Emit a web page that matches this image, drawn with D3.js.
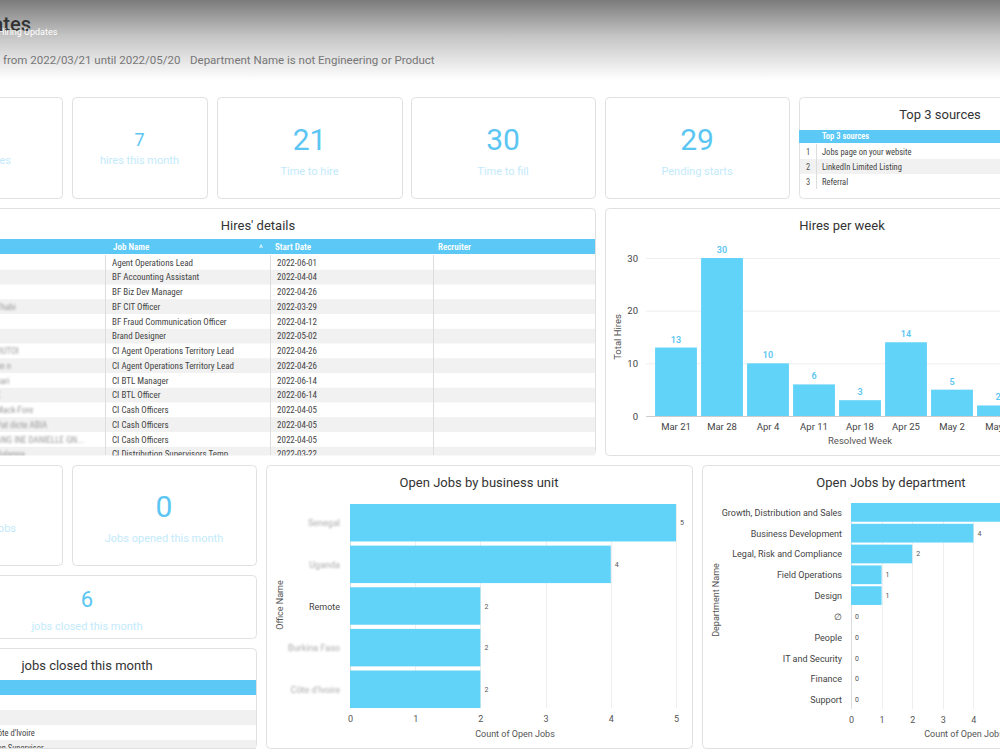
<!DOCTYPE html>
<html>
<head>
<meta charset="utf-8">
<script src="https://cdn.jsdelivr.net/npm/d3@7"></script>
<style>
  body { margin: 0; background: #fff; overflow: hidden; }
  svg { display: block; font-family: Roboto, "Open Sans", sans-serif; }
  .cond { font-family: "Roboto Condensed", "Liberation Sans Narrow", Roboto, sans-serif; }
</style>
</head>
<body>
<script>
// ---- data ----
const kpiValues = ["7", "21", "30", "29", "0", "6"]
const kpiLabels = ["hires this month", "Time to hire", "Time to fill", "Pending starts", "Jobs opened this month", "jobs closed this month"]

const sources = ["Jobs page on your website", "LinkedIn Limited Listing", "Referral"]

const hireJobs = ["Agent Operations Lead", "BF Accounting Assistant", "BF Biz Dev Manager", "BF CIT Officer",
  "BF Fraud Communication Officer", "Brand Designer", "CI Agent Operations Territory Lead",
  "CI Agent Operations Territory Lead", "CI BTL Manager", "CI BTL Officer", "CI Cash Officers",
  "CI Cash Officers", "CI Cash Officers", "CI Distribution Supervisors Temp"]
const hireDates = ["2022-06-01", "2022-04-04", "2022-04-26", "2022-03-29", "2022-04-12", "2022-05-02",
  "2022-04-26", "2022-04-26", "2022-06-14", "2022-06-14", "2022-04-05", "2022-04-05", "2022-04-05", "2022-03-22"]
const hireNames = ["", "", "", "Thabi", "", "", "OUTOI", "un n", "bari", "E", "Mack-Fore", "Pat dicte ABIA", "ANG INE DANIELLE GN...", "Bulanga"]

const weeks = ["Mar 21", "Mar 28", "Apr 4", "Apr 11", "Apr 18", "Apr 25", "May 2", "May 9"]
const weekHires = [13, 30, 10, 6, 3, 14, 5, 2]

const units = ["Senegal", "Uganda", "Remote", "Burkina Faso", "Côte d'Ivoire"]
const unitJobs = [5, 4, 2, 2, 2]

const departments = ["Growth, Distribution and Sales", "Business Development", "Legal, Risk and Compliance",
  "Field Operations", "Design", "∅", "People", "IT and Security", "Finance", "Support"]
const deptJobs = [5, 4, 2, 1, 1, 0, 0, 0, 0, 0]

const closedRows = ["", "", "Côte d'Ivoire", "Distribution Supervisor"]

const blue = "#62d3f8"
const headBlue = "#5bc8f5"
const numBlue = "#5cc6f2"
const lblBlue = "#c3eafb"

const svg = d3.select("body").append("svg")
  .attr("width", 1000)
  .attr("height", 750)

const defs = svg.append("defs")
const grad = defs.append("linearGradient").attr("id", "hdr").attr("x1", 0).attr("x2", 0).attr("y1", 0).attr("y2", 1)
grad.append("stop").attr("offset", "0%").attr("stop-color", "#7b7b7b")
grad.append("stop").attr("offset", "45%").attr("stop-color", "#c4c4c4")
grad.append("stop").attr("offset", "100%").attr("stop-color", "#ffffff")
defs.append("filter").attr("id", "blur").append("feGaussianBlur").attr("stdDeviation", 0.9)

// header
svg.append("rect").attr("x", 0).attr("y", 0).attr("width", 1000).attr("height", 80).attr("fill", "url(#hdr)")
svg.append("text").attr("x", 31).attr("y", 31).attr("text-anchor", "end")
  .attr("font-size", "20px").attr("font-weight", 500).attr("fill", "#333").text("Hiring Updates")
svg.append("text").attr("x", -2).attr("y", 35).attr("font-size", "9px").attr("fill", "#fff").text("Hiring Updates")
svg.append("text").attr("x", 3).attr("y", 64).attr("font-size", "11.5px").attr("fill", "#777")
  .text("from 2022/03/21 until 2022/05/20")
svg.append("text").attr("x", 190).attr("y", 64).attr("font-size", "11.5px").attr("fill", "#777")
  .text("Department Name is not Engineering or Product")

function panel(x, y, w, h) {
  return svg.append("rect").attr("x", x + 0.5).attr("y", y + 0.5).attr("width", w).attr("height", h)
    .attr("rx", 4).attr("fill", "#fff").attr("stroke", "#e0e0e0")
}

function kpi(x, y, w, h, value, label, size, vy, ly) {
  panel(x, y, w, h)
  svg.append("text").attr("x", x + w / 2).attr("y", vy).attr("text-anchor", "middle")
    .attr("font-size", size + "px").attr("fill", numBlue).text(value)
  svg.append("text").attr("x", x + w / 2).attr("y", ly).attr("text-anchor", "middle")
    .attr("font-size", "11px").attr("fill", lblBlue).text(label)
}

// KPI row
panel(-20, 97, 82, 101)
svg.append("text").attr("x", 11).attr("y", 164).attr("text-anchor", "end")
  .attr("font-size", "11px").attr("fill", lblBlue).text("Total hires")
kpi(72, 97, 135, 101, kpiValues[0], kpiLabels[0], 18, 146, 164)
kpi(217, 97, 185, 101, kpiValues[1], kpiLabels[1], 30, 150, 175)
kpi(411, 97, 184, 101, kpiValues[2], kpiLabels[2], 30, 150, 175)
kpi(605, 97, 184, 101, kpiValues[3], kpiLabels[3], 30, 150, 175)

// Top 3 sources
panel(799, 97, 240, 101)
svg.append("text").attr("x", 940).attr("y", 119).attr("text-anchor", "middle")
  .attr("font-size", "13px").attr("fill", "#333").text("Top 3 sources")
svg.append("rect").attr("x", 799).attr("y", 130).attr("width", 240).attr("height", 13).attr("fill", headBlue)
svg.append("text").attr("class", "cond").attr("x", 822).attr("y", 139).attr("font-size", "8.5px")
  .attr("font-weight", 600).attr("fill", "#fff").text("Top 3 sources")
const srcY = d3.scaleBand().domain(d3.range(sources.length)).range([144, 189])
sources.forEach((s, i) => {
  if (i % 2 == 1) svg.append("rect").attr("x", 800).attr("y", srcY(i)).attr("width", 240)
    .attr("height", srcY.bandwidth()).attr("fill", "#f1f1f1")
  svg.append("text").attr("class", "cond").attr("x", 806).attr("y", srcY(i) + 11).attr("font-size", "8.5px")
    .attr("fill", "#555").text(i + 1)
  svg.append("text").attr("class", "cond").attr("x", 822).attr("y", srcY(i) + 11).attr("font-size", "8.5px")
    .attr("fill", "#444").text(s)
})
svg.append("line").attr("x1", 816.5).attr("x2", 816.5).attr("y1", 144).attr("y2", 189).attr("stroke", "#ddd")

// Hires' details table
panel(-150, 208, 745, 247)
svg.append("text").attr("x", 258).attr("y", 230).attr("text-anchor", "middle")
  .attr("font-size", "13px").attr("fill", "#333").text("Hires' details")
svg.append("rect").attr("x", 0).attr("y", 239).attr("width", 595).attr("height", 15).attr("fill", headBlue)
const hdrCols = [[113, "Job Name"], [275, "Start Date"], [438, "Recruiter"]]
hdrCols.forEach(c => svg.append("text").attr("class", "cond").attr("x", c[0]).attr("y", 250)
  .attr("font-size", "9px").attr("font-weight", 600).attr("fill", "#fff").text(c[1]))
svg.append("text").attr("x", 261).attr("y", 251).attr("text-anchor", "middle").attr("font-size", "9px")
  .attr("fill", "#fff").text("^")
const rowY = d3.scaleBand().domain(d3.range(hireJobs.length)).range([255, 255 + 14.75 * hireJobs.length])
const tbl = svg.append("g")
hireJobs.forEach((j, i) => {
  const y = rowY(i)
  if (i % 2 == 1) tbl.append("rect").attr("x", 0).attr("y", y).attr("width", 595).attr("height", rowY.bandwidth()).attr("fill", "#f1f1f1")
  tbl.append("text").attr("class", "cond").attr("x", 112).attr("y", y + 10.5).attr("font-size", "9px").attr("fill", "#444").text(j)
  tbl.append("text").attr("class", "cond").attr("x", 277).attr("y", y + 10.5).attr("font-size", "9px").attr("fill", "#444").text(hireDates[i])
  tbl.append("text").attr("class", "cond").attr("x", -4).attr("y", y + 10.5).attr("font-size", "9px")
    .attr("fill", "#999").attr("filter", "url(#blur)").text(hireNames[i])
})
;[105.5, 270.5, 433.5].forEach(x => tbl.append("line").attr("x1", x).attr("x2", x).attr("y1", 255).attr("y2", 455).attr("stroke", "#ddd"))
// clip rows at panel bottom
svg.append("rect").attr("x", 0).attr("y", 455.5).attr("width", 600).attr("height", 9).attr("fill", "#fff")

// Hires per week
panel(605, 208, 474, 247)
svg.append("text").attr("x", 842).attr("y", 230).attr("text-anchor", "middle")
  .attr("font-size", "13px").attr("fill", "#333").text("Hires per week")
const wx = d3.scaleBand().domain(weeks).range([653, 1021]).paddingInner(0.09).paddingOuter(0.045)
const wy = d3.scaleLinear().domain([0, 30]).range([416, 258])
svg.append("g").selectAll("line").data(wy.ticks(3)).join("line")
  .attr("x1", 646).attr("x2", 1070).attr("y1", d => wy(d) + 0.5).attr("y2", d => wy(d) + 0.5)
  .attr("stroke", d => d == 0 ? "#ccc" : "#eee")
svg.append("g").selectAll("text").data(wy.ticks(3)).join("text")
  .attr("x", 638).attr("y", d => wy(d) + 3.5).attr("text-anchor", "end")
  .attr("font-size", "9.5px").attr("fill", "#444").text(d => d)
svg.append("g").selectAll("rect").data(weekHires).join("rect")
  .attr("x", (d, i) => wx(weeks[i])).attr("y", d => wy(d))
  .attr("width", wx.bandwidth()).attr("height", d => wy(0) - wy(d)).attr("fill", blue)
svg.append("g").selectAll("text").data(weekHires).join("text")
  .attr("x", (d, i) => wx(weeks[i]) + wx.bandwidth() / 2).attr("y", d => wy(d) - 5)
  .attr("text-anchor", "middle").attr("font-size", "9px").attr("font-weight", 600).attr("fill", numBlue).text(d => d)
svg.append("g").attr("transform", "translate(0,416)")
  .call(d3.axisBottom(wx).tickSize(0).tickPadding(7))
  .call(g => g.select(".domain").remove())
  .call(g => g.selectAll("text").attr("font-size", "9.5px").attr("fill", "#444").attr("font-family", "Roboto"))
svg.append("text").attr("x", 860).attr("y", 444).attr("text-anchor", "middle")
  .attr("font-size", "9.5px").attr("fill", "#555").text("Resolved Week")
svg.append("text").attr("transform", "translate(621,337) rotate(-90)").attr("text-anchor", "middle")
  .attr("font-size", "9.5px").attr("fill", "#555").text("Total Hires")

// bottom-left cards
panel(-20, 465, 82, 100)
svg.append("text").attr("x", 16).attr("y", 532).attr("text-anchor", "end")
  .attr("font-size", "11px").attr("fill", lblBlue).text("Open jobs")
kpi(72, 465, 184, 100, kpiValues[4], kpiLabels[4], 30, 517, 542)
kpi(-82, 575, 338, 63, kpiValues[5], kpiLabels[5], 22, 607, 630)

// jobs closed table
panel(-82, 648, 338, 100)
svg.append("text").attr("x", 87).attr("y", 670).attr("text-anchor", "middle")
  .attr("font-size", "13px").attr("fill", "#333").text("jobs closed this month")
svg.append("rect").attr("x", 0).attr("y", 680).attr("width", 256).attr("height", 15).attr("fill", headBlue)
closedRows.forEach((r, i) => {
  const y = 695 + i * 15
  if (i % 2 == 1) svg.append("rect").attr("x", 0).attr("y", y).attr("width", 256).attr("height", 15).attr("fill", "#f1f1f1")
  svg.append("text").attr("class", "cond").attr("x", i == 3 ? -33 : -7).attr("y", y + 11).attr("font-size", "8.5px")
    .attr("fill", "#444").text(r)
})
svg.append("rect").attr("x", 0).attr("y", 748.5).attr("width", 260).attr("height", 4).attr("fill", "#fff")
svg.append("line").attr("x1", 0).attr("x2", 256).attr("y1", 748.5).attr("y2", 748.5).attr("stroke", "#e0e0e0")

// horizontal bar chart helper
function hbar(opts) {
  const x = d3.scaleLinear().domain([0, 5]).range(opts.xr)
  const y = d3.scaleBand().domain(opts.cats).range(opts.yr).paddingInner(opts.pad)
  svg.append("g").selectAll("line").data(x.ticks(5)).join("line")
    .attr("x1", d => Math.round(x(d)) + 0.5).attr("x2", d => Math.round(x(d)) + 0.5)
    .attr("y1", opts.yr[0]).attr("y2", opts.yr[1])
    .attr("stroke", d => d == 0 ? "#ddd" : "#eee")
  svg.append("g").selectAll("rect").data(opts.vals).join("rect")
    .attr("x", x(0)).attr("y", (d, i) => y(opts.cats[i]))
    .attr("width", d => x(d) - x(0)).attr("height", y.bandwidth()).attr("fill", blue)
  svg.append("g").selectAll("text").data(opts.vals).join("text")
    .attr("x", d => x(d) + 4).attr("y", (d, i) => y(opts.cats[i]) + y.bandwidth() / 2 + 2.5)
    .attr("font-size", "7px").attr("fill", "#555").text(d => d)
  svg.append("g").selectAll("text").data(opts.cats).join("text")
    .attr("x", opts.lx).attr("y", d => y(d) + y.bandwidth() / 2 + 3.5).attr("text-anchor", "end")
    .attr("font-size", "9px").attr("fill", d => opts.blurred && d != "Remote" ? "#aaa" : "#444")
    .attr("filter", d => opts.blurred && d != "Remote" ? "url(#blur)" : null)
    .text(d => d)
  svg.append("g").attr("transform", "translate(0," + opts.yr[1] + ")")
    .call(d3.axisBottom(x).ticks(5).tickSize(0).tickPadding(8))
    .call(g => g.select(".domain").remove())
    .call(g => g.selectAll("text").attr("font-size", "9px").attr("fill", "#555").attr("font-family", "Roboto"))
  svg.append("text").attr("x", opts.tx).attr("y", 737).attr("text-anchor", "middle")
    .attr("font-size", "9px").attr("fill", "#555").text("Count of Open Jobs")
  svg.append("text").attr("transform", "translate(" + opts.ax + "," + opts.ay + ") rotate(-90)")
    .attr("text-anchor", "middle").attr("font-size", "9px").attr("fill", "#555").text(opts.atitle)
}

panel(266, 465, 426, 283)
svg.append("text").attr("x", 479).attr("y", 487).attr("text-anchor", "middle")
  .attr("font-size", "13px").attr("fill", "#333").text("Open Jobs by business unit")
hbar({cats: units, vals: unitJobs, xr: [350, 676], yr: [504, 708], pad: 0.1, lx: 340,
  tx: 515, ax: 283, ay: 605, atitle: "Office Name", blurred: true})

panel(702, 465, 340, 283)
svg.append("text").attr("x", 891).attr("y", 487).attr("text-anchor", "middle")
  .attr("font-size", "13px").attr("fill", "#333").text("Open Jobs by department")
hbar({cats: departments, vals: deptJobs, xr: [851, 1004], yr: [503, 709], pad: 0.1, lx: 842,
  tx: 964, ax: 719, ay: 600, atitle: "Department Name", blurred: false})
</script>
</body>
</html>
